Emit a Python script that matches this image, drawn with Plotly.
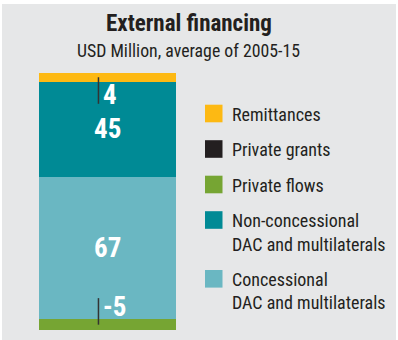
import plotly.graph_objects as go

# ---- data -------------------------------------------------------------
series_names = [
    "Remittances",
    "Private grants",
    "Private flows",
    "Non-concessional<br>DAC and multilaterals",
    "Concessional<br>DAC and multilaterals",
]
series_values = [4, 0, -5, 45, 67]          # USD million, average of 2005-15
series_colors = ["#FDB913", "#231F20", "#76A533", "#008A95", "#6AB7C2"]

title_text = "External financing"
subtitle_text = "USD Million, average of 2005-15"

# ---- canvas helpers -----------------------------------------------------
W, H = 398, 340
NARROW = "Liberation Sans Narrow, Arial Narrow, Roboto Condensed, DejaVu Sans Condensed, sans-serif"
TEXT = "#231F20"


def px_x(p):
    return p / W


def px_y(p):
    return 1 - p / H


fig = go.Figure()

# stacked bar: legend order is top-down, so stack in reverse
for name, val, col in reversed(list(zip(series_names, series_values, series_colors))):
    fig.add_trace(go.Bar(
        x=[0], y=[val], name=name.replace("<br>", " "),
        marker=dict(color=col, line=dict(width=0)),
        width=1, showlegend=False, hoverinfo="name+y",
    ))

pos_total = sum(v for v in series_values if v > 0)
neg_total = sum(v for v in series_values if v < 0)

# ---- value labels ---------------------------------------------------------
annotations = []
shapes = []
pos_base, neg_base = 0.0, 0.0
for name, val in reversed(list(zip(series_names, series_values))):
    if val == 0:
        continue
    if val > 0:
        mid = pos_base + val / 2
        pos_base += val
    else:
        mid = neg_base + val / 2
        neg_base += val
    label = f"{val:g}"
    if abs(val) >= 10:
        annotations.append(dict(
            x=0, y=mid, xref="x", yref="y", text=f"<b>{label}</b>", showarrow=False,
            font=dict(family=NARROW, size=27, color="white"),
            xanchor="center", yanchor="middle",
        ))
    else:
        # thin segment: a short leader line with the value next to it
        direction = -1 if val > 0 else 1
        shapes.append(dict(
            type="line", xref="x", yref="y",
            x0=-0.066, x1=-0.066, y0=mid, y1=mid + direction * 12.5,
            line=dict(color="#333333", width=1.5),
        ))
        annotations.append(dict(
            x=-0.05, y=mid + direction * 8.3, xref="x", yref="y",
            text=f"<b>{label}</b>", showarrow=False,
            font=dict(family=NARROW, size=27, color="white"),
            xanchor="left", yanchor="middle",
        ))

# ---- titles ---------------------------------------------------------------
annotations.append(dict(
    x=px_x(189), y=px_y(24), xref="paper", yref="paper", text=f"<b>{title_text}</b>",
    showarrow=False, xanchor="center", yanchor="middle",
    font=dict(family=NARROW, size=23, color=TEXT),
))
annotations.append(dict(
    x=px_x(188.5), y=px_y(50), xref="paper", yref="paper", text=subtitle_text,
    showarrow=False, xanchor="center", yanchor="middle",
    font=dict(family=NARROW, size=17.8, color=TEXT),
))

# ---- legend (swatch + text lines) -------------------------------------------
row_y = 113.5
for name, col in zip(series_names, series_colors):
    lines = name.split("<br>")
    shapes.append(dict(
        type="rect", xref="paper", yref="paper",
        x0=px_x(205), x1=px_x(222.5), y0=px_y(row_y - 8.8), y1=px_y(row_y + 8.8),
        fillcolor=col, line=dict(width=0),
    ))
    for i, ln in enumerate(lines):
        annotations.append(dict(
            x=px_x(230), y=px_y(row_y + 0.7 + i * 23.3), xref="paper", yref="paper",
            text=ln, showarrow=False, xanchor="left", yanchor="middle",
            font=dict(family=NARROW, size=18, color=TEXT),
        ))
    row_y += 35.5 + 23.3 * (len(lines) - 1)

# grey panel behind everything
shapes.insert(0, dict(
    type="rect", xref="paper", yref="paper", layer="below",
    x0=px_x(2), x1=px_x(396), y0=0, y1=px_y(4),
    fillcolor="#E6E7E8", line=dict(width=0),
))

fig.update_layout(
    width=W, height=H,
    margin=dict(l=0, r=0, t=0, b=0),
    paper_bgcolor="white", plot_bgcolor="rgba(0,0,0,0)",
    barmode="relative", bargap=0,
    showlegend=False,
    xaxis=dict(domain=[px_x(39), px_x(176)], range=[-0.5, 0.5], visible=False, fixedrange=True),
    yaxis=dict(domain=[px_y(330), px_y(73)], range=[neg_total, pos_total], visible=False, fixedrange=True),
    shapes=shapes,
    annotations=annotations,
)

fig.write_html("out.html")
